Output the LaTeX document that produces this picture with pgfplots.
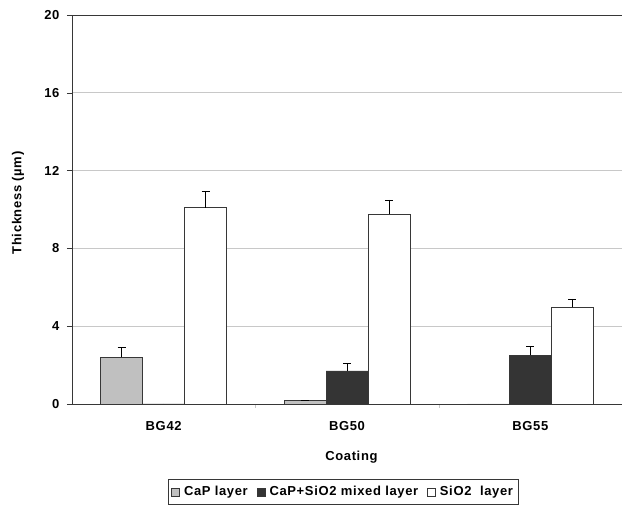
\documentclass[border=0pt]{standalone}
\usepackage{pgfplots}
\pgfplotsset{compat=1.18}
\usepackage{fontspec}
\setmainfont[LetterSpace=5]{Liberation Sans}
\definecolor{capgray}{RGB}{192,192,192}
\definecolor{mixdark}{RGB}{52,52,52}
\definecolor{edge}{RGB}{55,55,55}
\definecolor{gridc}{RGB}{200,200,200}
\begin{document}
\begin{tikzpicture}
\useasboundingbox (-72pt,-101pt) rectangle (552pt,404pt);
\begin{axis}[
  at={(0,0)}, anchor=south west,
  scale only axis, width=550pt, height=389pt,
  xmin=-0.5, xmax=2.5, ymin=0, ymax=20,
  axis lines*=left,
  axis line style={edge, line width=0.9pt},
  ybar=0pt, bar width=42pt,
  xtick={0,1,2}, xticklabels={BG42,BG50,BG55},
  major x tick style={draw=none},
  minor xtick={0.5,1.5},
  minor x tick style={gridc},
  ytick={0,4,...,16},
  extra y ticks={20},
  extra y tick style={grid style={edge, line width=0.9pt}},
  ymajorgrids, grid style={gridc, line width=0.7pt},
  tick align=outside, major tick length=5pt, minor tick length=4pt,
  y tick style={edge},
  /pgf/number format/assume math mode=true,
  ticklabel style={font=\fontsize{13}{15}\selectfont\bfseries},
  xticklabel style={yshift=-9pt},
  yticklabel style={xshift=-4pt},
  xlabel={Coating}, ylabel={Thickness (µm)},
  label style={font=\fontsize{13}{15}\selectfont\bfseries},
  xlabel style={at={(axis description cs:0.508,-0.136)}, anchor=center},
  ylabel style={at={(axis description cs:-0.098,0.517)}, anchor=center},
  legend columns=-1,
  legend style={at={(axis description cs:0.493,-0.226)}, anchor=center,
    draw=edge, line width=0.9pt, font=\fontsize{13}{15}\selectfont\bfseries,
    inner xsep=3pt, inner ysep=5pt,
    /tikz/every odd column/.append style={column sep=2pt},
    /tikz/every even column/.append style={column sep=7pt}},
  legend image code/.code={\draw[#1, line width=0.7pt] (0pt,-4pt) rectangle (8pt,4pt);},
  error bars/y dir=plus, error bars/y explicit,
  error bars/error mark options={rotate=90, mark size=4pt, line width=0.9pt, black},
  error bars/error bar style={line width=0.9pt, black},
]
\addplot[fill=capgray, draw=edge, line width=0.8pt] coordinates {(0,2.4) +- (0,0.5) (1,0.17) +- (0,0) (2,0) +- (0,0)};
\addplot[fill=mixdark, draw=edge, line width=0.8pt] coordinates {(0,0) +- (0,0) (1,1.7) +- (0,0.36) (2,2.5) +- (0,0.48)};
\addplot[fill=white, draw=edge, line width=0.8pt] coordinates {(0,10.1) +- (0,0.82) (1,9.77) +- (0,0.72) (2,4.97) +- (0,0.43)};
\legend{CaP layer, CaP+SiO2 mixed layer, SiO2\ \ layer}
\end{axis}
\end{tikzpicture}
\end{document}
